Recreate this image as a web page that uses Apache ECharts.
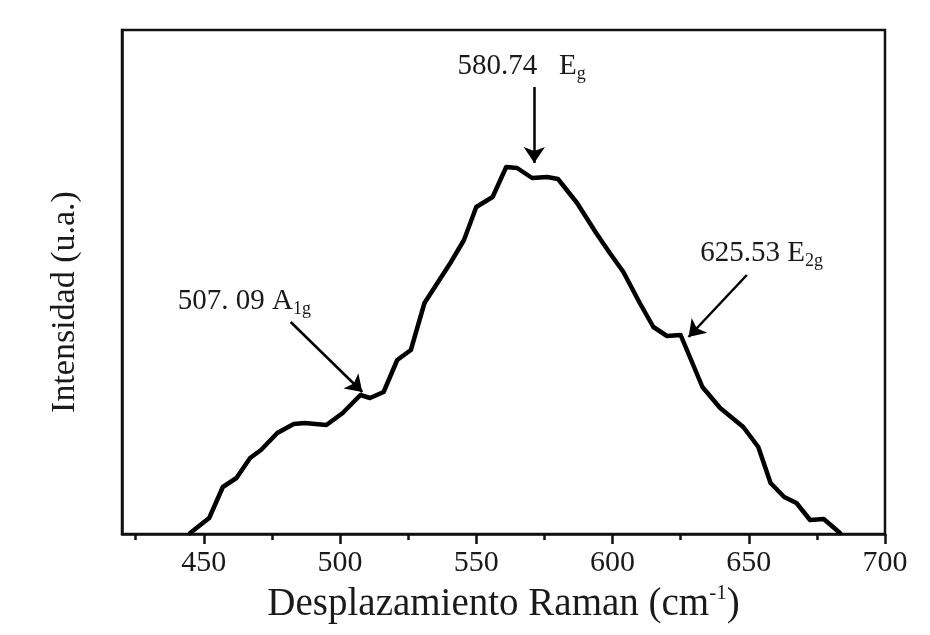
<!DOCTYPE html>
<html>
<head>
<meta charset="utf-8">
<script src="https://cdn.jsdelivr.net/npm/echarts@6/dist/echarts.min.js"></script>
<style>html,body{margin:0;padding:0;background:#fff;}#c{width:930px;height:635px;}</style>
</head>
<body>
<div id="c"></div>
<script>
// Raman shift (cm-1)
const shift = [445, 452, 457, 462, 467, 471, 477, 483, 487, 495, 501, 507.5, 511, 516, 521, 526, 531, 536, 540.5, 545.5, 550, 556, 561, 565, 570.5, 576, 580, 587, 594, 599, 604, 610, 615, 620, 625, 633, 639.5, 648, 653.5, 658, 663, 667.5, 672.5, 677.5, 683.5];
// Intensity (a.u.)
const intensity = [1, 16, 47, 56, 76, 84, 101, 110, 111, 109, 121, 139, 136, 142, 174, 184, 231, 252, 271, 294, 327, 337, 367, 366, 356, 357, 355, 331, 301, 281, 262, 231, 207, 198, 199, 147, 126, 107, 87, 51, 37, 31, 14, 15, 1];
const majorTicks = [450, 500, 550, 600, 650, 700];
const minorTicks = [425, 475, 525, 575, 625, 675];
// annotation labels: [x, y, main text, subscript]
const annLabels = [
  [440.5, 233, '507. 09 A', '1g'],
  [543.1, 468, '580.74\u2002 E', 'g'],
  [632.2, 281, '625.53 E', '2g']
];
// annotation arrows: [x tail, y tail, x head, y head]
const annArrows = [
  [481.9, 212, 508.2, 142],
  [571.3, 447, 571.3, 371],
  [649.3, 259, 627.9, 197]
];

const FONT = 'Liberation Serif';
const TXT = '#1a1a1a';
const chart = echarts.init(document.getElementById('c'));
chart.setOption({
  animation: false,
  backgroundColor: '#fff',
  grid: { left: 122, right: 45, top: 30, bottom: 101, show: true, borderColor: '#111', borderWidth: 2.5, backgroundColor: 'transparent' },
  xAxis: [{
    type: 'value', min: 420, max: 700,
    axisLine: { show: true, lineStyle: { color: '#111', width: 2.5 } },
    axisTick: { show: true, customValues: majorTicks, length: 10, inside: false, lineStyle: { color: '#111', width: 2.5 } },
    axisLabel: { show: true, customValues: majorTicks, margin: 14, fontFamily: FONT, fontSize: 30, color: TXT },
    splitLine: { show: false },
    name: '{a|Desplazamiento Raman (cm}{s|-1}{a|)}',
    nameLocation: 'middle', nameGap: 47,
    nameTextStyle: {
      rich: {
        a: { fontFamily: FONT, fontSize: 39, color: TXT, lineHeight: 44 },
        s: { fontFamily: FONT, fontSize: 21, color: TXT, lineHeight: 44, verticalAlign: 'top' }
      }
    }
  }, {
    type: 'value', min: 420, max: 700, position: 'bottom',
    axisLine: { show: false },
    axisTick: { show: true, customValues: minorTicks, length: 6, inside: false, lineStyle: { color: '#111', width: 2.5 } },
    axisLabel: { show: false },
    splitLine: { show: false }
  }],
  yAxis: {
    type: 'value', min: 0, max: 504,
    axisLine: { show: true, lineStyle: { color: '#111', width: 2.5 } },
    axisTick: { show: false },
    axisLabel: { show: false },
    splitLine: { show: false },
    name: 'Intensidad (u.a.)',
    nameLocation: 'middle', nameGap: 40,
    nameTextStyle: { fontFamily: FONT, fontSize: 34, color: TXT, padding: [0, 40, 0, 0] }
  },
  series: [{
    type: 'line',
    xAxisIndex: 0,
    data: shift.map((x, i) => [x, intensity[i]]),
    showSymbol: false,
    symbol: 'none',
    smooth: false,
    lineStyle: { color: '#000', width: 4.5, join: 'round', cap: 'round' },
    markLine: {
      silent: true,
      symbol: ['none', 'arrow'],
      symbolSize: 16,
      label: { show: false },
      lineStyle: { color: '#000', width: 2.5, type: 'solid' },
      data: annArrows.map(a => [{ coord: [a[0], a[1]] }, { coord: [a[2], a[3]] }])
    },
    markPoint: {
      silent: true,
      symbol: 'circle',
      symbolSize: 0,
      data: annLabels.map(a => ({
        coord: [a[0], a[1]],
        label: {
          show: true, position: 'right', distance: 0,
          formatter: '{n|' + a[2] + '}{s|' + a[3] + '}',
          rich: {
            n: { fontFamily: FONT, fontSize: 29, color: TXT, lineHeight: 34 },
            s: { fontFamily: FONT, fontSize: 18, color: TXT, lineHeight: 18, verticalAlign: 'bottom' }
          }
        }
      }))
    }
  }]
});
</script>
</body>
</html>
